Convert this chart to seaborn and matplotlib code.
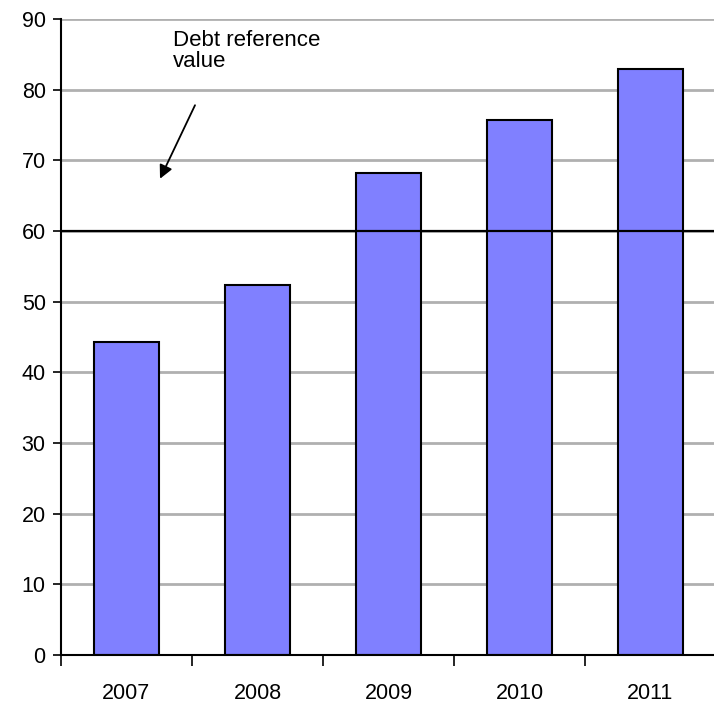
import matplotlib
matplotlib.use("Agg")
import matplotlib.pyplot as plt
import seaborn as sns
import pandas as pd

years = ["2007", "2008", "2009", "2010", "2011"]
debt = [44.3, 52.4, 68.2, 75.7, 82.9]
reference_value = 60
y_ticks = [0, 10, 20, 30, 40, 50, 60, 70, 80, 90]
annotation_text = "Debt reference\nvalue"

sns.set_style("white")
plt.rcParams["font.family"] = ["Liberation Sans", "DejaVu Sans"]
plt.rcParams["text.color"] = "black"
plt.rcParams["xtick.color"] = "black"
plt.rcParams["ytick.color"] = "black"
plt.rcParams["xtick.labelcolor"] = "black"
plt.rcParams["ytick.labelcolor"] = "black"

df = pd.DataFrame({"year": years, "debt": debt})

fig = plt.figure(figsize=(7.14, 7.04), dpi=100)
ax = fig.add_axes([61 / 714, 49 / 704, 653 / 714, 636 / 704])

for v in y_ticks[1:]:
    ax.axhline(v, color="#b0b0b0", lw=2, zorder=0)

sns.barplot(data=df, x="year", y="debt", color="#8080ff", saturation=1,
            width=0.5, edgecolor="black", linewidth=1.5, ax=ax, zorder=2)

ax.axhline(reference_value, color="black", lw=1.6, zorder=3)

ax.set_xlim(-0.5, 4.485)
ax.set_ylim(0, 90)
ax.set_yticks(y_ticks)
ax.set_xlabel("")
ax.set_ylabel("")
ax.set_xticks(range(len(years)))
ax.set_xticklabels(years)
ax.set_xticks([i - 0.5 for i in range(len(years))], minor=True)
ax.tick_params(axis="x", which="major", bottom=True, length=0, pad=20, labelsize=15.5)
ax.tick_params(axis="x", which="minor", bottom=True, length=8, width=1.2, color="black", direction="out")
ax.tick_params(axis="y", which="major", left=True, length=6, width=1.2, color="black",
               direction="out", labelsize=15.5, pad=5)

for s in ["top", "right"]:
    ax.spines[s].set_visible(False)
ax.spines["left"].set_color("black")
ax.spines["left"].set_linewidth(1.5)
ax.spines["bottom"].set_color("black")
ax.spines["bottom"].set_linewidth(1.5)

ax.text(0.355, 88.5, annotation_text, fontsize=16, ha="left", va="top", linespacing=1.05)
ax.annotate("", xy=(0.256, 67.4), xytext=(0.523, 77.8),
            arrowprops=dict(arrowstyle="-|>", color="black", lw=1.3,
                            mutation_scale=20, shrinkA=0, shrinkB=0))

fig.savefig("out.png", dpi=100)
